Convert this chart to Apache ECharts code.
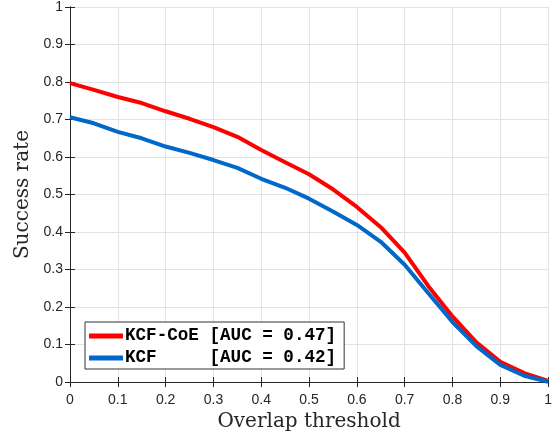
<!DOCTYPE html>
<html>
<head>
<meta charset="utf-8">
<script src="https://cdn.jsdelivr.net/npm/echarts@6/dist/echarts.min.js"></script>
<style>html,body{margin:0;padding:0;background:#fff;}#c{width:555px;height:437px;}</style>
</head>
<body>
<div id="c"></div>
<script>
const thresholds = [0,0.05,0.1,0.15,0.2,0.25,0.3,0.35,0.4,0.45,0.5,0.55,0.6,0.65,0.7,0.75,0.8,0.85,0.9,0.95,1];
const kcfCoE = [0.797,0.779,0.760,0.744,0.722,0.702,0.680,0.654,0.619,0.586,0.554,0.514,0.467,0.413,0.345,0.255,0.175,0.106,0.054,0.024,0.003];
const kcf = [0.706,0.690,0.667,0.650,0.628,0.611,0.592,0.571,0.542,0.518,0.489,0.455,0.419,0.374,0.313,0.236,0.160,0.096,0.046,0.017,0.001];
const seriesNames = ['KCF-CoE [AUC = 0.47]', 'KCF     [AUC = 0.42]'];
const xTitle = 'Overlap threshold';
const yTitle = 'Success rate';

const chart = echarts.init(document.getElementById('c'), null, {renderer: 'canvas'});
const axisCol = '#262626';
const fmt = v => (v === 0 ? '0' : v === 1 ? '1' : v.toFixed(1));
const common = {
  type: 'value', min: 0, max: 1, interval: 0.1,
  axisLine: {show: true, lineStyle: {color: axisCol, width: 1}},
  axisTick: {show: true, inside: true, length: 5, lineStyle: {color: axisCol}},
};
chart.setOption({
  animation: false,
  backgroundColor: '#fff',
  grid: {left: 70, right: 3, top: 7, bottom: 54, containLabel: false},
  xAxis: [
    Object.assign({}, common, {
      position: 'bottom',
      name: xTitle, nameLocation: 'middle', nameGap: 28,
      nameTextStyle: {fontFamily: 'DejaVu Serif', fontSize: 20, color: '#262626'},
      axisLabel: {margin: 11, fontFamily: 'Liberation Sans', fontSize: 14, color: axisCol, formatter: fmt},
      splitLine: {show: true, lineStyle: {color: '#e3e3e3', width: 1}}
    }),
    Object.assign({}, common, {position: 'top', axisLabel: {show: false}, splitLine: {show: false}})
  ],
  yAxis: [
    Object.assign({}, common, {
      position: 'left',
      name: yTitle, nameLocation: 'middle', nameGap: 35,
      nameTextStyle: {fontFamily: 'DejaVu Serif', fontSize: 20, color: '#262626'},
      axisLabel: {margin: 7, fontFamily: 'Liberation Sans', fontSize: 14, color: axisCol, formatter: fmt},
      splitLine: {show: true, lineStyle: {color: '#e3e3e3', width: 1}}
    }),
    Object.assign({}, common, {position: 'right', axisLabel: {show: false}, splitLine: {show: false}})
  ],
  legend: {
    orient: 'vertical', left: 85, top: 322,
    backgroundColor: '#fff', borderColor: '#333', borderWidth: 1,
    padding: [4, 8, 1, 4], itemGap: 2,
    itemWidth: 34, itemHeight: 5, icon: 'rect',
    textStyle: {fontFamily: 'Liberation Mono', fontWeight: 'bold', fontSize: 17.6, color: '#000', lineHeight: 20, padding: [0, 0, 0, -3]},
    data: seriesNames
  },
  series: [
    {name: seriesNames[0], type: 'line', showSymbol: false, symbol: 'none',
     lineStyle: {color: '#ff0000', width: 4}, itemStyle: {color: '#ff0000'},
     data: thresholds.map((x, i) => [x, kcfCoE[i]])},
    {name: seriesNames[1], type: 'line', showSymbol: false, symbol: 'none',
     lineStyle: {color: '#0068c8', width: 4}, itemStyle: {color: '#0068c8'},
     data: thresholds.map((x, i) => [x, kcf[i]])}
  ]
});
</script>
</body>
</html>
